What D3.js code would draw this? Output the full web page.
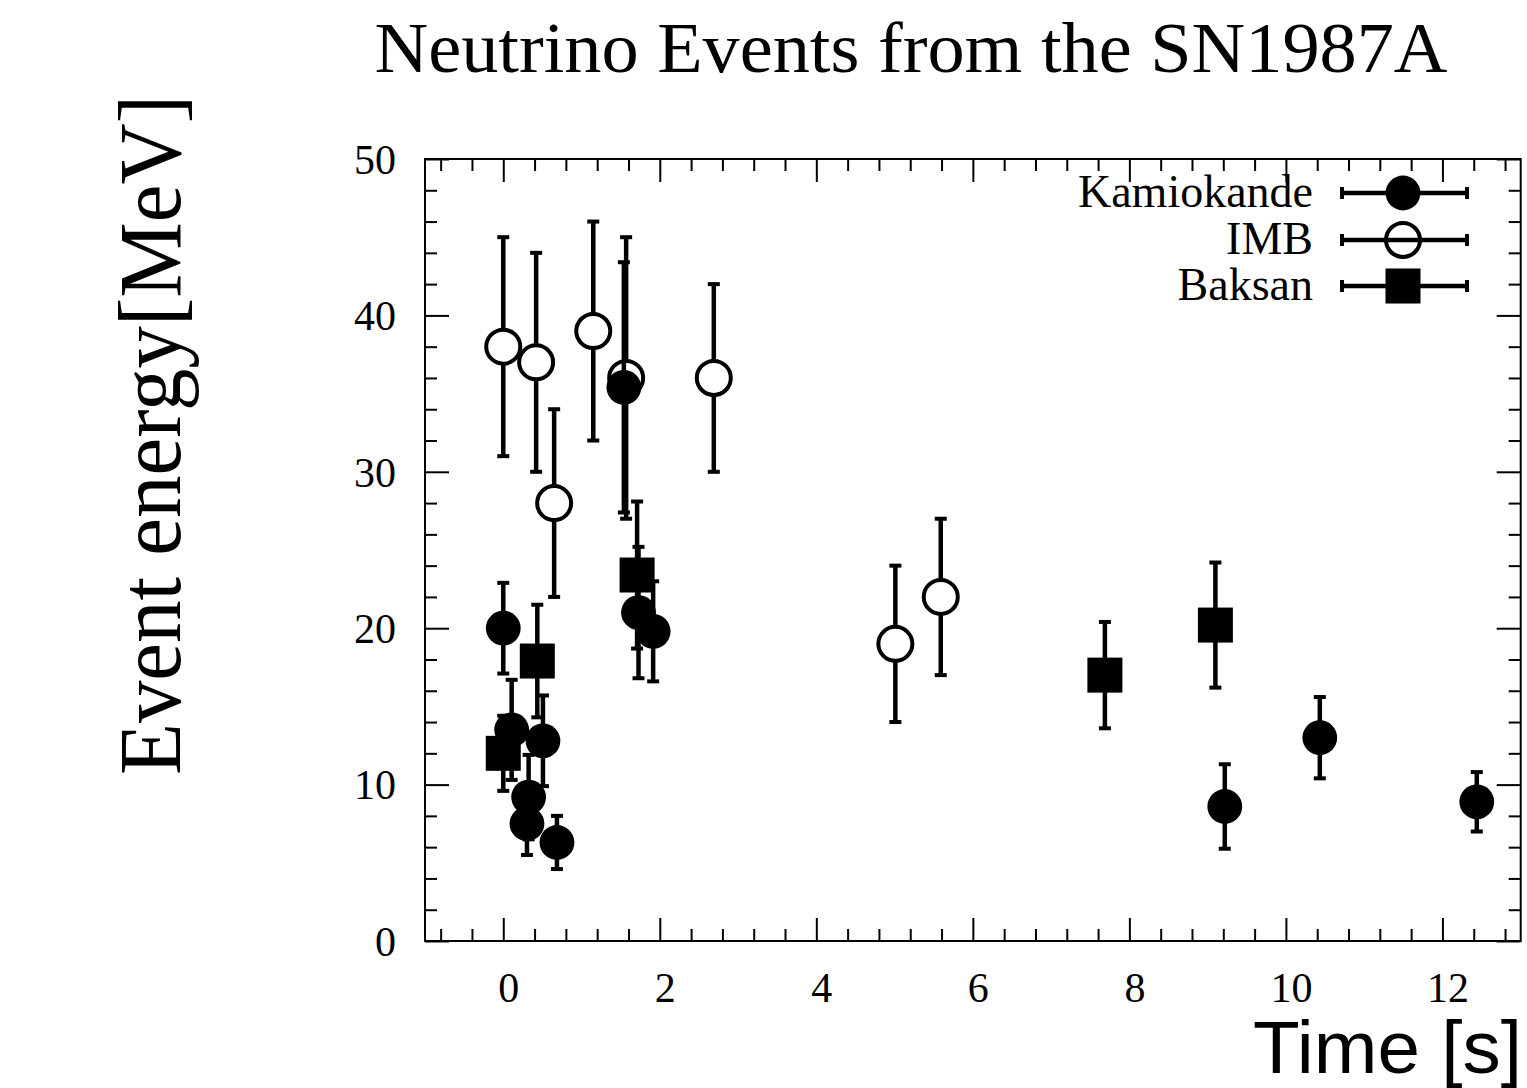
<!DOCTYPE html>
<html>
<head>
<meta charset="utf-8">
<script src="https://d3js.org/d3.v7.min.js"></script>
<style>
  body { margin: 0; background: #fff; }
  svg { display: block; }
  text { fill: #000; }
</style>
</head>
<body>
<div id="main-div"></div>
<script>
// event data: time [s], energy [MeV], energy error
var kamT = [0.000, 0.107, 0.303, 0.324, 0.507, 0.686, 1.541, 1.728, 1.915, 9.219, 10.433, 12.439];
var kamE = [20.0, 13.5, 7.5, 9.2, 12.8, 6.3, 35.4, 21.0, 19.8, 8.6, 13.0, 8.9];
var kamErr = [2.9, 3.2, 2.0, 2.7, 2.9, 1.7, 8.0, 4.2, 3.2, 2.7, 2.6, 1.9];

var imbT = [0.00, 0.42, 0.65, 1.15, 1.57, 2.69, 5.01, 5.59];
var imbE = [38, 37, 28, 39, 36, 36, 19, 22];
var imbErr = [7, 7, 6, 7, 9, 6, 5, 5];

var bakT = [0.000, 0.435, 1.710, 7.687, 9.099];
var bakE = [12.0, 17.9, 23.4, 17.0, 20.2];
var bakErr = [2.4, 3.6, 4.7, 3.4, 4.0];

var xMajor = [0, 2, 4, 6, 8, 10, 12];
var yMajor = [0, 10, 20, 30, 40, 50];
var legendNames = ["Kamiokande", "IMB", "Baksan"];

var W = 1527, H = 1088;
// plot frame (note: "top" is a reserved window global, so prefix these)
var pLeft = 425, pRight = 1520.7, pTop = 159, pBottom = 941;

var svg = d3.select("#main-div").append("svg")
  .attr("width", W).attr("height", H);

var x = d3.scaleLinear().domain([-1, 13]).range([pLeft, pRight]);
var y = d3.scaleLinear().domain([0, 50]).range([pBottom, pTop]);

var serif = "'Liberation Serif', 'DejaVu Serif', serif";

// minor tick positions
var xMinor = d3.range(-0.8, 13, 0.4).map(function (d) { return +d.toFixed(1); })
  .filter(function (d) { return xMajor.indexOf(d) < 0; });
var yMinor = d3.range(2, 50, 2).filter(function (d) { return d % 10 !== 0; });

function styleAxis(g) {
  g.select(".domain").remove();
  g.selectAll("line").attr("stroke", "#000").attr("stroke-width", 2);
  g.selectAll("text").attr("font-family", serif).attr("font-size", 42);
}

// bottom axis with labels
svg.append("g").attr("transform", "translate(0," + pBottom + ")")
  .call(d3.axisBottom(x).tickValues(xMajor).tickSize(-23).tickPadding(0).tickFormat(d3.format("d")))
  .call(styleAxis)
  .call(function (g) {
    g.selectAll("text").attr("dy", 0).attr("y", 61).attr("dx", 5);
  });
svg.append("g").attr("transform", "translate(0," + pBottom + ")")
  .call(d3.axisBottom(x).tickValues(xMinor).tickSize(-12).tickFormat(""))
  .call(styleAxis);
// top axis mirror
svg.append("g").attr("transform", "translate(0," + pTop + ")")
  .call(d3.axisTop(x).tickValues(xMajor).tickSize(-23).tickFormat(""))
  .call(styleAxis);
svg.append("g").attr("transform", "translate(0," + pTop + ")")
  .call(d3.axisTop(x).tickValues(xMinor).tickSize(-12).tickFormat(""))
  .call(styleAxis);

// left axis with labels
svg.append("g").attr("transform", "translate(" + pLeft + ",0)")
  .call(d3.axisLeft(y).tickValues(yMajor).tickSize(-24).tickPadding(5).tickFormat(d3.format("d")))
  .call(styleAxis)
  .call(function (g) {
    g.selectAll("text").attr("x", -29).attr("dy", "0.34em");
  });
svg.append("g").attr("transform", "translate(" + pLeft + ",0)")
  .call(d3.axisLeft(y).tickValues(yMinor).tickSize(-12).tickFormat(""))
  .call(styleAxis);
// right axis mirror
svg.append("g").attr("transform", "translate(" + pRight + ",0)")
  .call(d3.axisRight(y).tickValues(yMajor).tickSize(-24).tickFormat(""))
  .call(styleAxis);
svg.append("g").attr("transform", "translate(" + pRight + ",0)")
  .call(d3.axisRight(y).tickValues(yMinor).tickSize(-12).tickFormat(""))
  .call(styleAxis);

// frame
svg.append("rect")
  .attr("x", pLeft).attr("y", pTop)
  .attr("width", pRight - pLeft).attr("height", pBottom - pTop)
  .attr("fill", "none").attr("stroke", "#000").attr("stroke-width", 2);

// error bars + markers
var R = 17.4, RO = 17, SQ = 35, BW = 4.5, CAPW = 12, CAPH = 4;

function toPoints(ts, es, errs) {
  return ts.map(function (t, i) { return { t: t, e: es[i], err: errs[i] }; });
}

function drawBars(data, gap) {
  var g = svg.append("g");
  data.forEach(function (d) {
    var cx = x(d.t), cy = y(d.e);
    var yt = y(d.e + d.err), yb = y(d.e - d.err);
    if (gap) {
      g.append("line").attr("x1", cx).attr("x2", cx).attr("y1", yt).attr("y2", cy - RO)
        .attr("stroke", "#000").attr("stroke-width", BW);
      g.append("line").attr("x1", cx).attr("x2", cx).attr("y1", cy + RO).attr("y2", yb)
        .attr("stroke", "#000").attr("stroke-width", BW);
    } else {
      g.append("line").attr("x1", cx).attr("x2", cx).attr("y1", yt).attr("y2", yb)
        .attr("stroke", "#000").attr("stroke-width", BW);
    }
    [yt, yb].forEach(function (yy) {
      g.append("rect").attr("x", cx - CAPW / 2).attr("y", yy - CAPH / 2)
        .attr("width", CAPW).attr("height", CAPH).attr("fill", "#000");
    });
  });
}

var kam = toPoints(kamT, kamE, kamErr);
var imb = toPoints(imbT, imbE, imbErr);
var bak = toPoints(bakT, bakE, bakErr);

drawBars(imb, true);
svg.append("g").selectAll("circle").data(imb).enter().append("circle")
  .attr("cx", function (d) { return x(d.t); })
  .attr("cy", function (d) { return y(d.e); })
  .attr("r", RO).attr("fill", "none").attr("stroke", "#000").attr("stroke-width", 4);

drawBars(kam, false);
svg.append("g").selectAll("circle").data(kam).enter().append("circle")
  .attr("cx", function (d) { return x(d.t); })
  .attr("cy", function (d) { return y(d.e); })
  .attr("r", R).attr("fill", "#000");

drawBars(bak, false);
svg.append("g").selectAll("rect").data(bak).enter().append("rect")
  .attr("x", function (d) { return x(d.t) - SQ / 2; })
  .attr("y", function (d) { return y(d.e) - SQ / 2; })
  .attr("width", SQ).attr("height", SQ).attr("fill", "#000");

// legend
var legY = [193, 240, 286];
var lg = svg.append("g");
legendNames.forEach(function (name, i) {
  var yy = legY[i];
  lg.append("text").attr("x", 1313).attr("y", yy + 14)
    .attr("text-anchor", "end").attr("font-family", serif).attr("font-size", 46)
    .text(name);
  lg.append("line").attr("x1", 1342).attr("x2", 1467).attr("y1", yy).attr("y2", yy)
    .attr("stroke", "#000").attr("stroke-width", BW);
  [1342, 1467].forEach(function (xx) {
    lg.append("rect").attr("x", xx - CAPH / 2).attr("y", yy - CAPW / 2)
      .attr("width", CAPH).attr("height", CAPW).attr("fill", "#000");
  });
  var mx = 1403;
  if (i === 0) {
    lg.append("circle").attr("cx", mx).attr("cy", yy).attr("r", R).attr("fill", "#000");
  } else if (i === 1) {
    lg.append("circle").attr("cx", mx).attr("cy", yy).attr("r", RO)
      .attr("fill", "#fff").attr("stroke", "#000").attr("stroke-width", 4);
    lg.append("line").attr("x1", mx - RO).attr("x2", mx + RO).attr("y1", yy).attr("y2", yy)
      .attr("stroke", "#000").attr("stroke-width", BW);
  } else {
    lg.append("rect").attr("x", mx - SQ / 2).attr("y", yy - SQ / 2)
      .attr("width", SQ).attr("height", SQ).attr("fill", "#000");
  }
});

// titles
svg.append("text").attr("x", 911).attr("y", 72)
  .attr("text-anchor", "middle").attr("font-family", serif).attr("font-size", 72)
  .attr("textLength", 1073).attr("lengthAdjust", "spacingAndGlyphs")
  .text("Neutrino Events from the SN1987A");

svg.append("text")
  .attr("transform", "translate(180,435) rotate(-90)")
  .attr("text-anchor", "middle").attr("font-family", serif).attr("font-size", 88)
  .attr("textLength", 680).attr("lengthAdjust", "spacingAndGlyphs")
  .text("Event energy[MeV]");

svg.append("text").attr("x", 1522).attr("y", 1073)
  .attr("text-anchor", "end").attr("font-family", "'Liberation Sans', Arial, sans-serif")
  .attr("font-size", 74)
  .attr("textLength", 269).attr("lengthAdjust", "spacingAndGlyphs")
  .text("Time [s]");
</script>
</body>
</html>
